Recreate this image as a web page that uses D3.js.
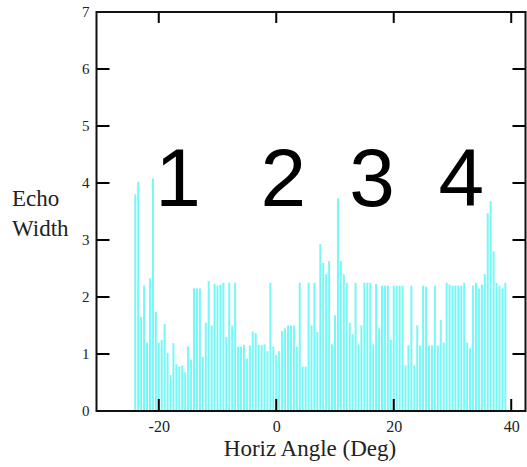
<!DOCTYPE html>
<meta charset="utf-8">
<html>
<script src="https://d3js.org/d3.v7.min.js"></script>
<style>
    body { margin: 0; background: #fff; }
</style>
<body>
<svg id="chart"></svg>
<script>
    // ---------------- data ----------------
    // horizontal angle of each bar (deg)
    const angles = [-24, -23.5, -23, -22.5, -22, -21.5, -21, -20.5, -20, -19.5,
        -19, -18.5, -18, -17.5, -17, -16.5, -16, -15.5, -15, -14.5,
        -14, -13.5, -13, -12.5, -12, -11.5, -11, -10.5, -10, -9.5,
        -9, -8.5, -8, -7.5, -7, -6.5, -6, -5.5, -5, -4.5,
        -4, -3.5, -3, -2.5, -2, -1.5, -1, -0.5, 0, 0.5,
        1, 1.5, 2, 2.5, 3, 3.5, 4, 4.5, 5, 5.5,
        6, 6.5, 7, 7.5, 8, 8.5, 9, 9.5, 10, 10.5,
        11, 11.5, 12, 12.5, 13, 13.5, 14, 14.5, 15, 15.5,
        16, 16.5, 17, 17.5, 18, 18.5, 19, 19.5, 20, 20.5,
        21, 21.5, 22, 22.5, 23, 23.5, 24, 24.5, 25, 25.5,
        26, 26.5, 27, 27.5, 28, 28.5, 29, 29.5, 30, 30.5,
        31, 31.5, 32, 32.5, 33, 33.5, 34, 34.5, 35, 35.5,
        36, 36.5, 37, 37.5, 38, 38.5, 39];

    // echo width per bar
    const echoWidth = [3.8, 4.02, 1.65, 2.2, 1.2, 2.33, 4.08, 1.74, 1.2, 1.25,
        1.53, 1.02, 0.63, 1.19, 0.82, 0.78, 0.8, 0.68, 1.13, 0.9,
        2.15, 2.15, 2.15, 0.95, 1.55, 2.28, 1.5, 2.23, 2.2, 2.22,
        2.25, 1.3, 2.25, 1.5, 2.25, 1.13, 1.13, 1.16, 0.92, 1.15,
        1.39, 1.37, 1.16, 1.16, 1.17, 1.05, 2.25, 1.13, 0.98, 1.05,
        1.4, 1.45, 1.5, 1.5, 1.5, 1.13, 2.25, 0.78, 0.78, 2.25,
        1.5, 2.25, 1.39, 2.93, 2.6, 2.4, 2.63, 1.17, 1.68, 3.73,
        2.63, 2.4, 2.25, 1.55, 1.35, 2.25, 1.17, 1.5, 2.25, 2.25,
        2.25, 1.17, 2.23, 1.45, 2.2, 2.2, 2.2, 1.25, 2.2, 2.2,
        2.2, 2.2, 0.8, 1.15, 2.2, 0.8, 1.5, 1.15, 2.2, 2.18,
        1.15, 1.15, 2.2, 1.15, 1.6, 1.2, 2.25, 2.22, 2.2, 2.2,
        2.2, 2.2, 2.25, 1.2, 1.1, 2.2, 2.25, 2.15, 2.22, 2.4,
        3.47, 3.68, 2.8, 2.25, 2.2, 2.15, 2.25];

    const xTicks = [-20, 0, 20, 40];
    const yTicks = [0, 1, 2, 3, 4, 5, 6, 7];

    // big region numbers, placed in data units
    const regionLabels = ["1", "2", "3", "4"];
    const regionAngle = [-16.7, 1.2, 16.3, 31.5];
    const regionLevel = [3.6, 3.6, 3.6, 3.6];

    // ---------------- chart ----------------
    let width = 527, height = 467;
    const serif = "'Liberation Serif', 'Times New Roman', serif";

    let svg = d3.select("#chart")
        .attr("width", width)
        .attr("height", height);

    let x = d3.scaleLinear().domain([-30.6, 42.6]).range([96.5, 526.5]);
    let y = d3.scaleLinear().domain([0, 7]).range([411, 12]);
    let left = x.range()[0], right = x.range()[1] - 1;

    // bars
    svg.append("g")
        .selectAll("rect")
        .data(angles)
        .enter()
        .append("rect")
            .attr("x", (d, i) => x(d) - 1)
            .attr("width", 2)
            .attr("y", (d, i) => y(echoWidth[i]))
            .attr("height", (d, i) => y(0) - y(echoWidth[i]))
            .attr("fill", "#78f7f7");

    // tick labels through d3 axes (no tick lines here)
    let gx = svg.append("g")
        .attr("transform", "translate(0," + y(0) + ")")
        .call(d3.axisBottom(x).tickValues(xTicks).tickSize(0)
            .tickPadding(10).tickFormat(d => String(d)));
    gx.selectAll("text").style("font-size", "16px");

    let gy = svg.append("g")
        .attr("transform", "translate(" + left + ",0)")
        .call(d3.axisLeft(y).tickValues(yTicks).tickSize(0)
            .tickPadding(7).tickFormat(d => String(d)));
    gy.selectAll("text").style("font-size", "15px");

    svg.selectAll(".domain").remove();
    svg.selectAll(".tick text")
        .style("font-family", serif)
        .attr("fill", "#222");

    // inward tick marks on all four sides
    let tickG = svg.append("g");
    tickG.selectAll(".xb").data(xTicks.filter(d => x(d) < right)).enter().append("line")
        .attr("x1", d => x(d)).attr("x2", d => x(d))
        .attr("y1", y(0)).attr("y2", y(0) - 12)
        .attr("stroke", "#000").attr("stroke-width", 2);
    tickG.selectAll(".xt").data(xTicks.filter(d => x(d) < right)).enter().append("line")
        .attr("x1", d => x(d)).attr("x2", d => x(d))
        .attr("y1", y(7)).attr("y2", y(7) + 11)
        .attr("stroke", "#000").attr("stroke-width", 2);
    tickG.selectAll(".yl").data(yTicks).enter().append("line")
        .attr("x1", left).attr("x2", left + 13)
        .attr("y1", d => y(d)).attr("y2", d => y(d))
        .attr("stroke", "#000").attr("stroke-width", 2);
    tickG.selectAll(".yr").data(yTicks).enter().append("line")
        .attr("x1", right).attr("x2", right - 13)
        .attr("y1", d => y(d)).attr("y2", d => y(d))
        .attr("stroke", "#000").attr("stroke-width", 2);

    // frame
    svg.append("rect")
        .attr("x", left)
        .attr("y", y(7))
        .attr("width", right - left)
        .attr("height", y(0) - y(7))
        .attr("fill", "none")
        .attr("stroke", "#111")
        .attr("stroke-width", 2);

    // axis titles
    svg.append("text")
        .attr("x", 310).attr("y", 456)
        .attr("text-anchor", "middle")
        .style("font-family", serif)
        .style("font-size", "23px")
        .attr("fill", "#222")
        .text("Horiz Angle (Deg)");

    svg.append("text")
        .attr("x", 12).attr("y", 206)
        .style("font-family", serif)
        .style("font-size", "23px")
        .attr("fill", "#222")
        .text("Echo");
    svg.append("text")
        .attr("x", 12).attr("y", 236)
        .style("font-family", serif)
        .style("font-size", "23px")
        .attr("fill", "#222")
        .text("Width");

    // region numbers
    svg.append("g")
        .selectAll("text")
        .data(regionLabels)
        .enter()
        .append("text")
            .attr("x", (d, i) => x(regionAngle[i]))
            .attr("y", (d, i) => y(regionLevel[i]))
            .attr("text-anchor", "middle")
            .style("font-family", "'Liberation Sans', Arial, sans-serif")
            .style("font-size", "82px")
            .attr("fill", "#000")
            .text(d => d);
</script>
</body>
</html>
